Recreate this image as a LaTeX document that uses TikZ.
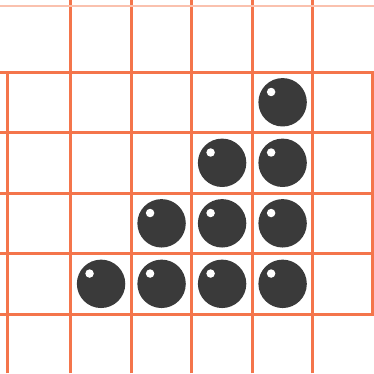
\documentclass[tikz,border=0pt]{standalone}
\usepackage{tikz}
\usepackage{xcolor}
\usetikzlibrary{calc}
\definecolor{gridorange}{HTML}{F4754B}
\definecolor{stonegrey}{HTML}{3A3A3A}
\tikzstyle{gridline} = [draw=gridorange, line width=1.4pt]
\tikzstyle{stone} = [circle, minimum size=0.8cm, inner sep=0pt, fill=stonegrey]
\tikzstyle{shine} = [fill=white]

\begin{document}
\begin{tikzpicture}
\useasboundingbox (-0.17,0.02) rectangle (6.01,6.19);
% grid
\foreach \i in {1,...,5} {
  \draw[gridline] (\i,0.02) -- (\i,6.19);
  \draw[gridline] (-0.17,\i) -- (6.01,\i);
}
\draw[gridline] (-0.04,0.02) -- (-0.04,5);
\draw[gridline] (5.98,1) -- (5.98,5);
\draw[gridline, draw=gridorange!45, line width=0.8pt] (-0.17,6.09) -- (6.01,6.09);
% stones
\foreach \r in {1,...,4} {
  \pgfmathtruncatemacro{\first}{5-\r}
  \foreach \c in {\first,...,4} {
    \node[stone] (s-\r-\c) at (\c+0.5,5.5-\r) {};
    \fill[shine] ($(s-\r-\c)+(-0.19,0.17)$) circle (0.07);
  }
}
\end{tikzpicture}
\end{document}
